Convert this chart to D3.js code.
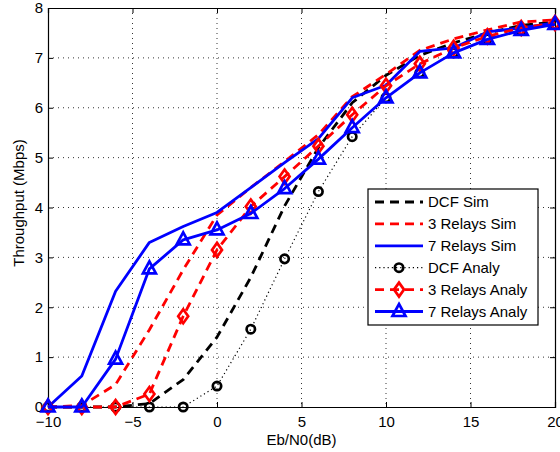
<!DOCTYPE html>
<html><head><meta charset="utf-8">
<script src="https://cdn.jsdelivr.net/npm/d3@7"></script>
<style>
html,body{margin:0;padding:0;background:#fff;}
text{font-family:"Liberation Sans",Arial,Helvetica,sans-serif;}
</style></head>
<body><svg id="c" width="560" height="452"></svg>
<script>
const snr = [-10,-8,-6,-4,-2,0,2,4,6,8,10,12,14,16,18,20];
const dcfSim    = [0,0,0,0.07,0.55,1.4,2.6,4.03,5.2,6.1,6.65,7.05,7.3,7.5,7.65,7.72];
const rel3Sim   = [0,0.03,0.45,1.55,2.75,3.85,4.4,4.92,5.46,6.22,6.67,7.15,7.38,7.56,7.72,7.76];
const rel7Sim   = [0,0.62,2.32,3.3,3.62,3.9,4.4,4.9,5.38,6.2,6.45,7.13,7.2,7.52,7.6,7.7];
const dcfAnaly  = [0,0,0,0,0,0.42,1.56,2.97,4.32,5.42,6.2,6.7,7.1,7.38,7.55,7.67];
const rel3Analy = [0,0,0,0.26,1.82,3.15,4.02,4.62,5.23,5.86,6.44,6.88,7.2,7.43,7.6,7.7];
const rel7Analy = [0,0,0.96,2.77,3.35,3.55,3.88,4.38,4.97,5.6,6.2,6.7,7.1,7.37,7.55,7.67];
const xTicks = [-10,-5,0,5,10,15,20];
const yTicks = [0,1,2,3,4,5,6,7,8];
const seriesNames = ["DCF Sim","3 Relays Sim","7 Relays Sim","DCF Analy","3 Relays Analy","7 Relays Analy"];
const xLabel = "Eb/N0(dB)";
const yLabel = "Throughput (Mbps)";

const series = [
  {name:seriesNames[0], v:dcfSim,    color:"#000", dash:"9,6", w:2.8, marker:null},
  {name:seriesNames[1], v:rel3Sim,   color:"#f00", dash:"9,6", w:2.8, marker:null},
  {name:seriesNames[2], v:rel7Sim,   color:"#00f", dash:null,  w:2.8, marker:null},
  {name:seriesNames[3], v:dcfAnaly,  color:"#000", dash:"1.2,3", w:1.2, marker:"circle"},
  {name:seriesNames[4], v:rel3Analy, color:"#f00", dash:"9,6", w:2.8, marker:"diamond"},
  {name:seriesNames[5], v:rel7Analy, color:"#00f", dash:null,  w:2.8, marker:"triangle"}
];

const L=48, R=555, T=8, B=407;
const svg = d3.select("#c");
const x = d3.scaleLinear().domain([-10,20]).range([L,R]);
const y = d3.scaleLinear().domain([0,8]).range([B,T]);

// grid
const g = svg.append("g");
g.selectAll("line.gx").data(xTicks.slice(1,-1)).join("line")
  .attr("x1",d=>x(d)).attr("x2",d=>x(d)).attr("y1",T).attr("y2",B)
  .attr("stroke","#000").attr("stroke-width",0.8).attr("stroke-dasharray","1,4");
g.selectAll("line.gy").data(yTicks.slice(1,-1)).join("line")
  .attr("y1",d=>y(d)).attr("y2",d=>y(d)).attr("x1",L).attr("x2",R)
  .attr("stroke","#000").attr("stroke-width",0.8).attr("stroke-dasharray","1,4");

// axes
const fmt = d=> d<0 ? "\u2212"+Math.abs(d) : String(d);
const axB = svg.append("g").attr("transform",`translate(0,${B})`)
  .call(d3.axisBottom(x).tickValues(xTicks).tickSize(-5).tickPadding(9).tickFormat(fmt));
const axT = svg.append("g").attr("transform",`translate(0,${T})`)
  .call(d3.axisTop(x).tickValues(xTicks).tickSize(-5).tickFormat(""));
const axL = svg.append("g").attr("transform",`translate(${L},0)`)
  .call(d3.axisLeft(y).tickValues(yTicks).tickSize(-5).tickPadding(5).tickFormat(fmt));
const axR = svg.append("g").attr("transform",`translate(${R},0)`)
  .call(d3.axisRight(y).tickValues(yTicks).tickSize(-5).tickFormat(""));
[axB,axT,axL,axR].forEach(a=>{
  a.select(".domain").attr("stroke","#000").attr("stroke-width",1.2);
  a.selectAll(".tick line").attr("stroke","#000").attr("stroke-width",1);
  a.selectAll("text").attr("font-size",15).attr("fill","#000")
   .attr("font-family","'Liberation Sans',Arial,sans-serif");
});

// lines
const line = d3.line().x((d,i)=>x(snr[i])).y(d=>y(d));
function markerPath(type){
  if(type==="circle") return d3.symbol(d3.symbolCircle, 55)();
  if(type==="diamond") return "M0,-7L5,0L0,7L-5,0Z";
  if(type==="triangle") return "M0,-7.5L6.5,4.5L-6.5,4.5Z";
  return null;
}
series.forEach(s=>{
  const gs = svg.append("g");
  gs.append("path").attr("d",line(s.v)).attr("fill","none")
    .attr("stroke",s.color).attr("stroke-width",s.w)
    .attr("stroke-dasharray",s.dash).attr("stroke-linejoin","round");
  if(s.marker){
    gs.selectAll("path.m").data(s.v).join("path").attr("class","m")
      .attr("d",markerPath(s.marker))
      .attr("transform",(d,i)=>`translate(${x(snr[i])},${y(d)})`)
      .attr("fill","none").attr("stroke",s.color).attr("stroke-width",2.7);
  }
});

// labels
svg.append("text").attr("x",(L+R)/2).attr("y",445).attr("text-anchor","middle")
  .attr("font-size",15).text(xLabel);
svg.append("text").attr("transform","translate(24,203) rotate(-90)").attr("text-anchor","middle")
  .attr("font-size",15).text(yLabel);

// legend
const lg = svg.append("g");
lg.append("rect").attr("x",368).attr("y",189).attr("width",170).attr("height",136)
  .attr("fill","#fff").attr("stroke","#000").attr("stroke-width",1.2);
series.forEach((s,i)=>{
  const cy = 202 + i*21.9;
  lg.append("line").attr("x1",375).attr("x2",423).attr("y1",cy).attr("y2",cy)
    .attr("stroke",s.color).attr("stroke-width",s.w).attr("stroke-dasharray",s.dash);
  if(s.marker){
    lg.append("path").attr("d",markerPath(s.marker)).attr("transform",`translate(399,${cy})`)
      .attr("fill","none").attr("stroke",s.color).attr("stroke-width",2.7);
  }
  lg.append("text").attr("x",428).attr("y",cy).attr("dy","0.36em")
    .attr("font-size",15).text(s.name);
});
</script></body></html>
